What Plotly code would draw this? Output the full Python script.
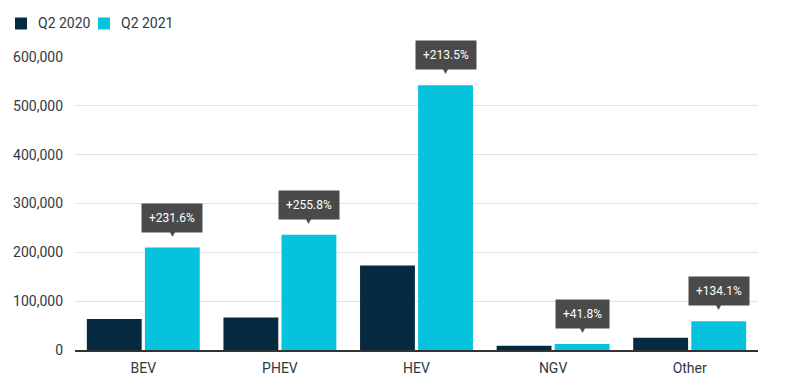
import plotly.graph_objects as go

categories = ["BEV", "PHEV", "HEV", "NGV", "Other"]
series_names = ["Q2 2020", "Q2 2021"]
q2_2020 = [63300, 66300, 173000, 8700, 25200]
q2_2021 = [209900, 235900, 542400, 12340, 59000]
growth_labels = ["+231.6%", "+255.8%", "+213.5%", "+41.8%", "+134.1%"]
y_ticks = [0, 100000, 200000, 300000, 400000, 500000, 600000]

DARK = "#062a40"
CYAN = "#05c3dd"
BOX = "#4a4a4a"
TXT = "#303a44"
FONT = "Roboto"
COLORS = [DARK, CYAN]

W, H = 805, 386
ML, MR, MT, MB = 67, 55, 49, 44   # page body adds an 8px offset; these compensate
PW, PH = W - ML - MR, H - MT - MB


def px(fx):
    return (fx - ML) / PW


def py(fy):
    return 1 + (MT - fy) / PH


fig = go.Figure()
for name, vals, col in zip(series_names, [q2_2020, q2_2021], COLORS):
    fig.add_trace(go.Bar(name=name, x=categories, y=vals, marker_color=col,
                         marker_line_width=0, showlegend=False))

for cat, val, lab in zip(categories, q2_2021, growth_labels):
    fig.add_annotation(x=cat, y=val, xref="x", yref="y", text=lab, showarrow=False,
                       xshift=29, yshift=15, yanchor="bottom",
                       bgcolor=BOX, borderpad=7, font=dict(family=FONT, size=12, color="white"))
    fig.add_annotation(x=cat, y=val, xref="x", yref="y", text="▼", showarrow=False,
                       xshift=29, yshift=8, yanchor="bottom",
                       font=dict(family="DejaVu Sans", size=9, color=BOX))

# legend drawn as swatches + labels
legend_x = [7, 90]
for lx, name, col in zip(legend_x, series_names, COLORS):
    fig.add_shape(type="rect", xref="paper", yref="paper",
                  x0=px(lx), x1=px(lx + 12), y0=py(21.5), y1=py(9.5),
                  fillcolor=col, line_width=0)
    fig.add_annotation(xref="paper", yref="paper", x=px(lx + 21), y=py(15),
                       text=name, showarrow=False, xanchor="left", yanchor="middle",
                       font=dict(family=FONT, size=14, color=TXT))

fig.update_layout(
    width=W, height=H,
    margin=dict(l=ML, r=MR, t=MT, b=MB, autoexpand=False),
    plot_bgcolor="white", paper_bgcolor="white",
    barmode="group", bargap=0.15, bargroupgap=0.055,
    font=dict(family=FONT, size=13, color=TXT),
    showlegend=False,
)
fig.update_yaxes(range=[0, 600000], tickvals=y_ticks, tickformat=",", showgrid=True,
                 gridcolor="#e2e2e2", zeroline=False, ticks="", ticklabelstandoff=11,
                 tickfont=dict(family=FONT, size=14, color=TXT))
fig.update_xaxes(showline=True, linecolor="#333333", linewidth=1.5, ticks="",
                 ticklabelstandoff=4,
                 tickfont=dict(family=FONT, size=14, color=TXT))

fig.write_html("out.html")
